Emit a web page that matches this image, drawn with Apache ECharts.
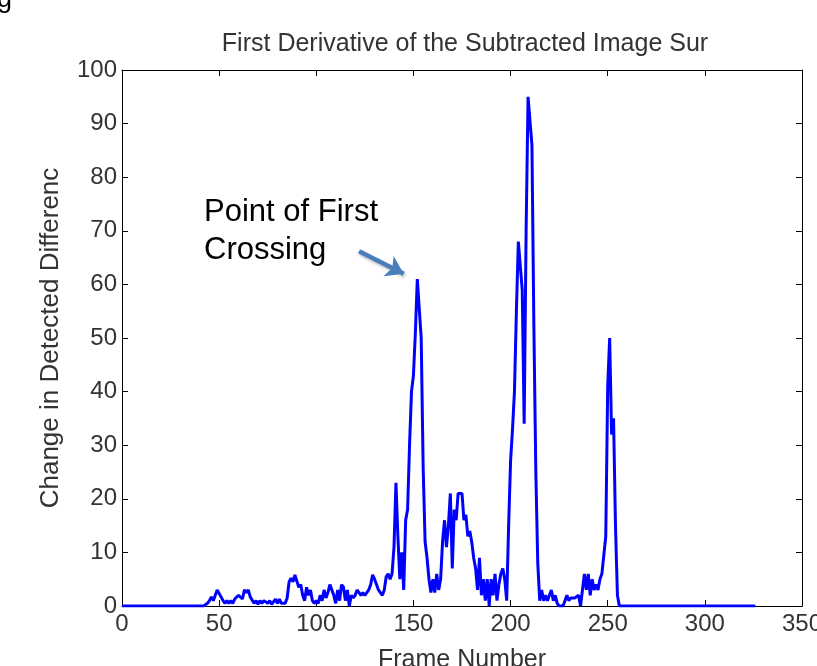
<!DOCTYPE html>
<html>
<head>
<meta charset="utf-8">
<script src="https://cdn.jsdelivr.net/npm/echarts@6/dist/echarts.min.js"></script>
<style>
  html, body { margin: 0; padding: 0; background: #fff; overflow: hidden; }
  #chart { width: 817px; height: 666px; }
</style>
</head>
<body>
<div id="chart"></div>
<script>
// values per frame, frame number = index
var frameValues = [
  0,0,0,0,0,0,0,0,0,0, 0,0,0,0,0,0,0,0,0,0,
  0,0,0,0,0,0,0,0,0,0, 0,0,0,0,0,0,0,0,0,0,
  0,0,0,0,
  0.5,1,1.7,1,2,3,3,1.7,1,0.5,          // 44-53
  1,0.5,1,0.5,1.3,1.3,2,2,1.3,3,        // 54-63
  2.5,3,1.7,1.7,0.5,1,0.3,1,0.5,1,      // 64-73
  1,0.5,1,0.3,0.5,1.3,0.5,1.3,0.5,0.8,  // 74-83
  0.5,1.5,4.5,5.2,4.5,5.8,5.5,3.5,4,2,  // 84-93
  1,3.5,2,                              // 94-96
  3,1,0.5,1,0.5,2,1,3,1.5,2.5,          // 97-106
  4,4,2,0.5,3,1,4,3.5,1,3,              // 107-116
  0,2,1.5,2,3,3,2,2.5,2,2,              // 117-126
  3,4,5.8,5,4,3,2.5,2,3,5.5,            // 127-136
  6,5,6,                                // 137-139
  11,23,13,5,10,3,16,18,30,40,          // 140-149
  43,51,61,61,50,26,12,9,5,2.5,         // 150-159
  5,2.5,6,3,5,12,16,11,15,21,           // 160-169
  7,18,16,21,21,21,16,17,13,14,         // 170-179
  12,9,7,3,9,2,5,1,5,0,                 // 180-189
  5,2,6,1,4,6,7,5,1,15,                 // 190-199
  27,33,40,55,68,68,59,34,70,95,        // 200-209
  95,86,52,25,8,1,3,1,2,1,              // 210-219
  2,3,1,2,0.5,0,0,0,1,2,                // 220-229
  1,1.5,1.5,1.5,1.5,2,0,0,6,3,          // 230-239
  6,2,5,3,4,3,5,6,6,13,                 // 240-249
  41,50,32,35,15,2,0,0,0,0,             // 250-259
  0,0,0,0,0,0,0,0,0,0, 0,0,0,0,0,0,0,0,0,0,
  0,0,0,0,0,0,0,0,0,0, 0,0,0,0,0,0,0,0,0,0,
  0,0,0,0,0,0,0,0,0,0, 0,0,0,0,0,0,0,0,0,0,
  0,0,0,0,0,0,0
];
var xTicks = [0, 50, 100, 150, 200, 250, 300, 350];
var yTicks = [0, 10, 20, 30, 40, 50, 60, 70, 80, 90, 100];
var arrowFrom = [122, 66.2];
var arrowTo = [145, 62];

var chart = echarts.init(document.getElementById('chart'), null, { width: 817, height: 666 });
var fontFam = '"Liberation Sans", Arial, Helvetica, sans-serif';
var labelColor = '#333';

var seriesData = frameValues.map(function (v, i) { return [i, v]; });

var axisBase = {
  axisLine: { show: true, onZero: false, lineStyle: { color: '#000', width: 1 } },
  axisTick: { show: true, inside: true, length: 6, lineStyle: { color: '#000' } },
  splitLine: { show: false }
};

var option = {
  animation: false,
  backgroundColor: '#fff',
  title: {
    text: 'First Derivative of the Subtracted Image Sur',
    left: 460,
    textAlign: 'center',
    top: 27,
    textStyle: { fontFamily: fontFam, fontSize: 25, fontWeight: 'normal', color: labelColor }
  },
  grid: { left: 122, top: 70, width: 680, height: 536, containLabel: false, outerBoundsMode: 'none' },
  xAxis: [
    Object.assign({}, axisBase, {
      type: 'value', position: 'bottom',
      min: xTicks[0], max: xTicks[xTicks.length - 1], interval: 50,
      name: 'Frame Number', nameLocation: 'middle', nameGap: 42,
      nameTextStyle: { fontFamily: fontFam, fontSize: 25, color: labelColor },
      axisLabel: { margin: 6, fontFamily: fontFam, fontSize: 24, color: labelColor }
    }),
    Object.assign({}, axisBase, {
      type: 'value', position: 'top',
      min: xTicks[0], max: xTicks[xTicks.length - 1], interval: 50,
      axisLabel: { show: false }
    })
  ],
  yAxis: [
    Object.assign({}, axisBase, {
      type: 'value', position: 'left',
      min: yTicks[0], max: yTicks[yTicks.length - 1], interval: 10,
      name: 'Change in Detected Differenc', nameLocation: 'middle', nameGap: 58,
      nameTextStyle: { fontFamily: fontFam, fontSize: 26, color: labelColor },
      axisLabel: { margin: 5, fontFamily: fontFam, fontSize: 24, color: labelColor }
    }),
    Object.assign({}, axisBase, {
      type: 'value', position: 'right',
      min: yTicks[0], max: yTicks[yTicks.length - 1], interval: 10,
      axisLabel: { show: false }
    })
  ],
  series: [{
    type: 'line',
    data: seriesData,
    showSymbol: false,
    symbol: 'none',
    lineStyle: { color: '#0000ff', width: 3 },
    markLine: {
      silent: true,
      symbol: ['none', 'arrow'],
      symbolSize: [17, 17],
      label: { show: false },
      lineStyle: {
        color: '#4a7ebb', width: 4.5, type: 'solid',
        shadowColor: 'rgba(0,0,0,0.25)', shadowBlur: 3, shadowOffsetX: 1, shadowOffsetY: 2
      },
      data: [[{ coord: arrowFrom }, { coord: arrowTo }]]
    }
  }],
  graphic: [
    {
      type: 'text', left: 204, top: 193,
      style: {
        text: 'Point of First\nCrossing',
        font: '31px ' + fontFam,
        lineHeight: 38,
        fill: '#000'
      }
    },
    {
      type: 'text', x: -3, y: -14,
      style: { text: 'g', font: '27px ' + fontFam, fill: '#000', verticalAlign: 'top' }
    }
  ]
};

chart.setOption(option);
</script>
</body>
</html>
